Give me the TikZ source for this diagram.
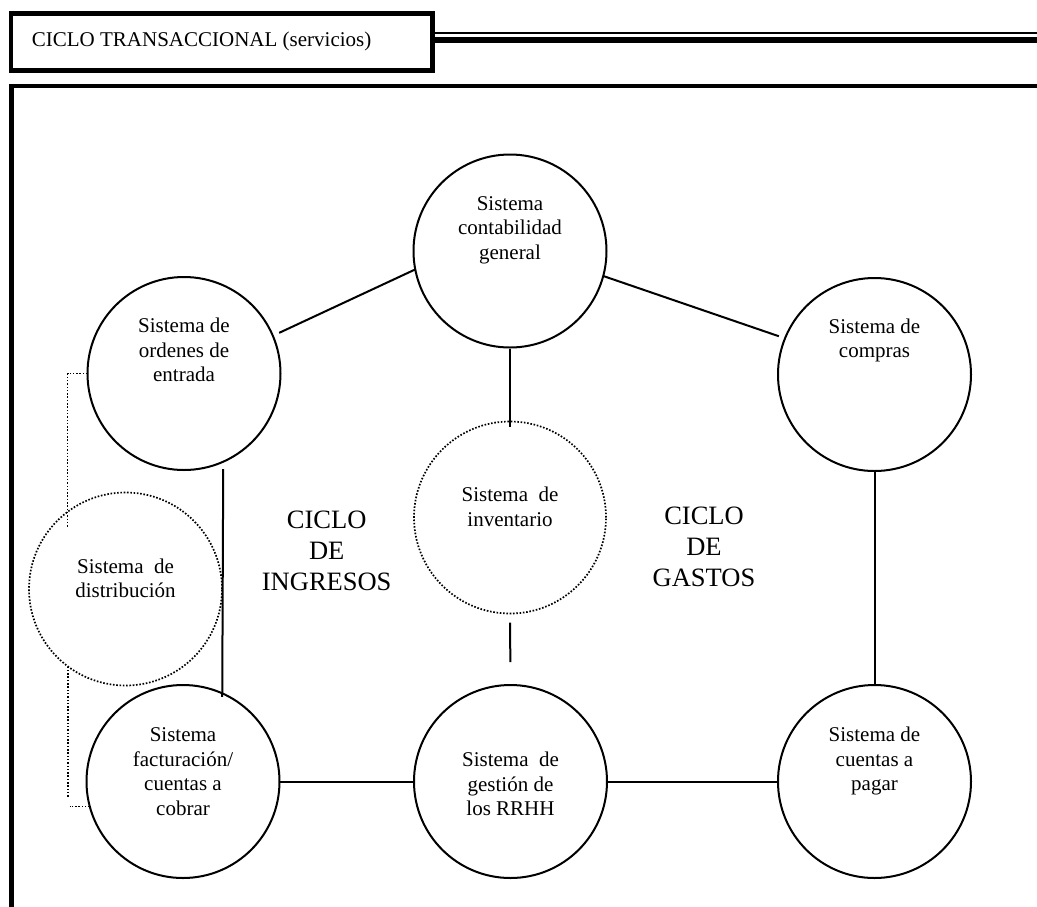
\documentclass[tikz,border=0pt]{standalone}
\usepackage{fontspec}
\setmainfont{Liberation Serif}
\usetikzlibrary{calc}
\begin{document}
\begin{tikzpicture}[x=1pt,y=-1pt,
  sysbox/.style={circle, draw, line width=2pt, minimum size=193pt, inner sep=0pt, outer sep=0pt},
  sysdot/.style={sysbox, line width=1.7pt, dash pattern=on 1.6pt off 1.7pt},
  link/.style={line width=2pt},
  dotlink/.style={line width=1.6pt, dash pattern=on 1.5pt off 1.8pt},
  caption/.style={anchor=base, inner sep=0pt, font=\fontsize{21}{24.5}\selectfont},
  cyclelabel/.style={anchor=base, inner sep=0pt, font=\fontsize{26.5}{31.2}\selectfont},
  framerule/.style={line width=4.5pt}]

\useasboundingbox (0,0) rectangle (1037,906);
\clip (0,0) rectangle (1037,906);

% header box with its double rule
\node[draw, line width=4.5pt, minimum width=421.7pt, minimum height=56.8pt,
      inner sep=0pt, outer sep=0pt] (title) at (221.6,42.1) {};
\node[anchor=base west, inner sep=0pt, font=\fontsize{21}{24.5}\selectfont]
      (titletext) at (31.7,46.7) {CICLO TRANSACCIONAL (servicios)};
\draw[line width=2pt] ([yshift=8.8pt]title.east) -- ++(620,0);
\draw[line width=6pt] ([yshift=1.9pt]title.east) -- ++(620,0);

% main frame (runs past the page on the right and bottom)
\draw[framerule] (11.5,940) -- (11.5,85.8) -- (1060,85.8);

% systems
\node[sysbox] (cont) at (510,251) {};
\node[sysbox] (ord)  at (184,373.5) {};
\node[sysbox] (comp) at (874.5,374.5) {};
\node[sysdot, minimum size=192pt] (inv)  at (510,517.5) {};
\node[sysdot] (dist) at (125.5,589) {};
\node[sysbox] (fact) at (183,781.5) {};
\node[sysbox] (gest) at (510.5,781.5) {};
\node[sysbox] (pay)  at (874.5,781.5) {};

% system names
\node[caption] (contL) at ($(cont)+(0,-41)$)
  {\begin{tabular}[t]{@{}c@{}}Sistema\\contabilidad\\general\end{tabular}};
\node[caption] (ordL) at ($(ord)+(0,-41)$)
  {\begin{tabular}[t]{@{}c@{}}Sistema de\\ordenes de\\entrada\end{tabular}};
\node[caption] (compL) at ($(comp)+(0,-41.5)$)
  {\begin{tabular}[t]{@{}c@{}}Sistema de\\compras\end{tabular}};
\node[caption] (invL) at ($(inv)+(0,-16)$)
  {\begin{tabular}[t]{@{}c@{}}Sistema\ \ de\\inventario\end{tabular}};
\node[caption] (distL) at ($(dist)+(0,-16)$)
  {\begin{tabular}[t]{@{}c@{}}Sistema\ \ de\\distribución\end{tabular}};
\node[caption] (factL) at ($(fact)+(0,-40)$)
  {\begin{tabular}[t]{@{}c@{}}Sistema\\facturación/\\cuentas a\\cobrar\end{tabular}};
\node[caption] (gestL) at ($(gest)+(0,-15)$)
  {\begin{tabular}[t]{@{}c@{}}Sistema\ \ de\\gestión de\\los RRHH\end{tabular}};
\node[caption] (payL) at ($(pay)+(0,-40)$)
  {\begin{tabular}[t]{@{}c@{}}Sistema de\\cuentas a\\pagar\end{tabular}};

% cycle titles
\node[cyclelabel] (ingresos) at (326.7,528.3)
  {\begin{tabular}[t]{@{}c@{}}CICLO\\DE\\INGRESOS\end{tabular}};
\node[cyclelabel] (gastos) at (704,524)
  {\begin{tabular}[t]{@{}c@{}}CICLO\\DE\\GASTOS\end{tabular}};

% links
\draw[link, shorten <=7pt] (ord.23) -- (cont.191);
\draw[link, shorten >=6.5pt] (cont.345) -- (comp.158);
\draw[link, shorten <=1.5pt, shorten >=-5pt] (cont.south) -- (inv.north);
\draw[link, shorten <=9pt, shorten >=23pt] (inv.south) -- (gest.north);
\draw[link, shorten <=7.5pt, shorten >=-3.5pt] (ord.294) -- (fact.66.4);
\draw[link, shorten <=1pt] (comp.south) -- (pay.north);
\draw[link] (fact.east) -- (gest.west);
\draw[link] (gest.east) -- (pay.west);

% dotted bracket behind the distribution system
\draw[dotlink] (ord.west) -- ++(-20,0) -- ++(0,153);
\coordinate (dotA) at (68,666.5);
\draw[dotlink] (dotA) -- ++(0,130.5);
\draw[dotlink] (fact.195) -- ++(-20,0);

\end{tikzpicture}
\end{document}
